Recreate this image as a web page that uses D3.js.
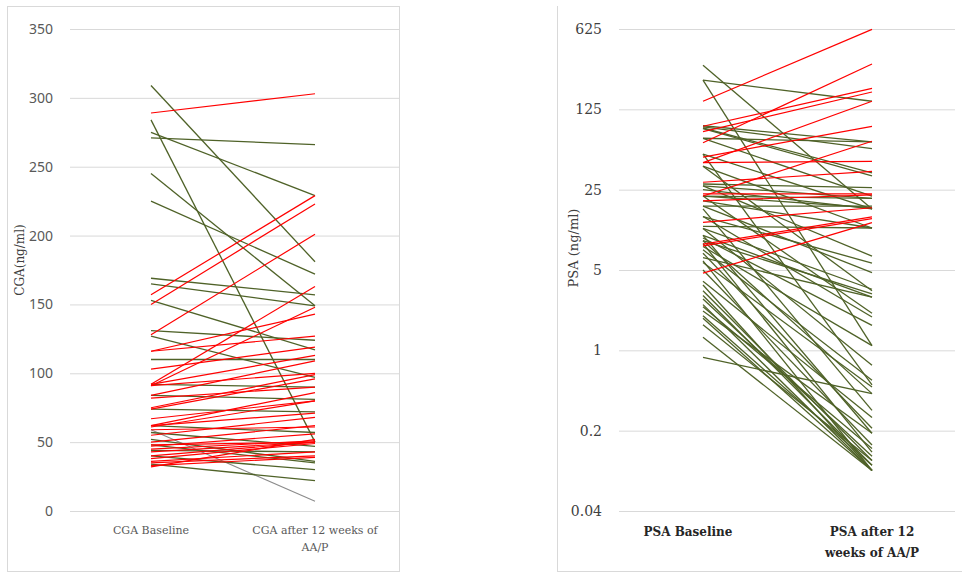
<!DOCTYPE html>
<html lang="en">
<head>
<meta charset="utf-8">
<title>CGA and PSA before / after AA/P</title>
<style type="text/css">
body
{
   margin: 0;
   background: #ffffff;
}
.grid line
{
   stroke: #d9d9d9;
   stroke-width: 1;
}
.grid .domain
{
   display: none;
}
.frame
{
   fill: none;
   stroke: #d9d9d9;
   stroke-width: 1;
}
</style>
<script type="text/javascript" src="https://cdn.jsdelivr.net/npm/d3@7"></script>
</head>

<body>

<script type="text/javascript">
var w = 962;
var h = 574;

// ---- data ----
var cgaCategories = ["CGA Baseline", "CGA after 12 weeks of|AA/P"];
var cgaTicks = [0, 50, 100, 150, 200, 250, 300, 350];
// [baseline, after 12 weeks]
var cgaUp = [
  [289, 303], [157, 229], [150, 223], [128, 201], [92, 163], [91, 148],
  [116, 143], [116, 127], [103, 119], [92, 113], [91, 100], [75, 99],
  [74, 96], [84, 109], [82, 90], [62, 86], [61, 80], [67, 80], [62, 71],
  [55, 68], [50, 62], [47, 56], [45, 51], [43, 50], [40, 50], [38, 49],
  [48, 50], [36, 43], [35, 40], [33, 39], [32, 52], [59, 61]
];
var cgaDown = [
  [309, 181], [284, 50], [275, 229], [271, 266], [245, 149], [225, 172],
  [169, 157], [165, 149], [153, 117], [131, 124], [127, 97], [110, 110],
  [92, 90], [84, 81], [74, 72], [62, 57], [52, 36], [48, 35], [44, 43],
  [40, 30], [34, 22], [57, 47]
];
var cgaOther = [
  [59, 7]
];

var psaCategories = ["PSA Baseline", "PSA after 12|weeks of AA/P"];
var psaTicks = [0.04, 0.2, 1, 5, 25, 125, 625];
var psaUp = [
  [147, 620], [64, 310], [89, 190], [80, 177], [43, 147], [48, 89],
  [22, 66], [43, 44], [29, 36], [20, 22.5], [23, 23], [13, 17.4],
  [8.4, 14.5], [8.1, 14], [4.7, 12.9]
];
var psaDown = [
  [303, 17], [224, 147], [224, 1.1], [90, 65], [88, 57], [86, 35],
  [85, 33], [70, 65], [70, 22], [51, 17], [51, 0.5], [40, 11.6],
  [40, 3.3], [28, 26], [27, 21], [27, 6.6], [25, 17], [22, 21],
  [22, 17.4], [22, 2.1], [20, 11.6], [18, 18], [18, 4.75], [17, 0.3],
  [14.6, 5.75], [14.6, 1.95], [12, 11.6], [11.5, 3.4], [11.5, 0.74],
  [10, 2.9], [10, 0.19], [9.5, 1.65], [9, 3.1], [9, 0.42], [8.5, 0.13],
  [8, 1.1], [7.5, 0.55], [7, 0.21], [6.4, 2.9], [6, 0.09], [5.8, 0.48],
  [5, 0.15], [4, 0.26], [3.7, 0.09], [3.3, 0.11], [3, 0.1], [2.8, 0.12],
  [2.5, 0.09], [2.4, 0.14], [2.2, 0.19], [2, 0.1], [1.9, 0.09],
  [1.67, 0.11], [1.3, 0.09], [0.87, 0.42]
];

var green = "#4f6228";
var red = "#ff0000";
var grey = "#8c8c8c";

var svg = d3.select("body")
            .append("svg")
            .attr("width", w)
            .attr("height", h);

// ---- left chart: CGA ----
svg.append("rect").attr("class", "frame")
   .attr("x", 7.5).attr("y", 6.5).attr("width", 392).attr("height", 565);

var xL = d3.scalePoint().domain(cgaCategories).range([151, 315]);
var yL = d3.scaleLinear().domain([0, 350]).range([511, 29]);

var gL = svg.append("g")
            .attr("class", "grid")
            .attr("transform", "translate(70,0)")
            .call(d3.axisLeft(yL).tickValues(cgaTicks).tickSize(-329).tickPadding(17));
gL.selectAll("text")
  .style("font-family", "'Noto Sans', sans-serif")
  .style("font-size", "14px")
  .style("fill", "#595959");

function drawLines(g, data, x, y, cats, color, width) {
  g.selectAll(null)
   .data(data)
   .enter()
   .append("line")
   .attr("x1", x(cats[0]))
   .attr("x2", x(cats[1]))
   .attr("y1", function(d){ return y(d[0]); })
   .attr("y2", function(d){ return y(d[1]); })
   .attr("stroke", color)
   .attr("stroke-width", width);
}

var linesL = svg.append("g");
drawLines(linesL, cgaOther, xL, yL, cgaCategories, grey, 1.1);
drawLines(linesL, cgaDown, xL, yL, cgaCategories, green, 1.3);
drawLines(linesL, cgaUp, xL, yL, cgaCategories, red, 1.2);

cgaCategories.forEach(function(c){
  var t = svg.append("text")
     .attr("x", xL(c))
     .attr("y", 534)
     .attr("text-anchor", "middle")
     .style("font-family", "'DejaVu Serif', serif")
     .style("font-size", "11px")
     .style("fill", "#595959");
  c.split("|").forEach(function(part, i){
    t.append("tspan").attr("x", xL(c)).attr("dy", i == 0 ? 0 : 17).text(part);
  });
});

svg.append("text")
   .attr("transform", "translate(24,260) rotate(-90)")
   .attr("text-anchor", "middle")
   .style("font-family", "'DejaVu Serif', serif")
   .style("font-size", "12px")
   .style("fill", "#404040")
   .text("CGA(ng/ml)");

// ---- right chart: PSA ----
svg.append("line").attr("class", "frame")
   .attr("x1", 557.5).attr("x2", 557.5).attr("y1", 6).attr("y2", 571.5);
svg.append("line").attr("class", "frame")
   .attr("x1", 557).attr("x2", 962).attr("y1", 571.5).attr("y2", 571.5);

var xR = d3.scalePoint().domain(psaCategories).range([703, 872]);
var yR = d3.scaleLog().base(5).domain([0.04, 625]).range([511, 29]);

var gR = svg.append("g")
            .attr("class", "grid")
            .attr("transform", "translate(619,0)")
            .call(d3.axisLeft(yR).tickValues(psaTicks).tickFormat(function(d){ return String(d); })
                    .tickSize(-336).tickPadding(17));
gR.selectAll("text")
  .style("font-family", "'DejaVu Serif', serif")
  .style("font-size", "14px")
  .style("fill", "#404040");

var linesR = svg.append("g");
drawLines(linesR, psaDown, xR, yR, psaCategories, green, 1.3);
drawLines(linesR, psaUp, xR, yR, psaCategories, red, 1.2);

psaCategories.forEach(function(c){
  var t = svg.append("text")
     .attr("x", xR(c))
     .attr("y", 536)
     .attr("text-anchor", "middle")
     .style("font-family", "'DejaVu Serif', serif")
     .style("font-size", "12px")
     .style("font-weight", "bold")
     .style("fill", "#262626");
  c.split("|").forEach(function(part, i){
    t.append("tspan").attr("x", xR(c)).attr("dy", i == 0 ? 0 : 21).text(part);
  });
});
// the baseline label sits a little left of its lines in the original
svg.selectAll("text").filter(function(){ return this.textContent == "PSA Baseline"; })
   .attr("transform", "translate(-15,0)");

svg.append("text")
   .attr("transform", "translate(578,248) rotate(-90)")
   .attr("text-anchor", "middle")
   .style("font-family", "'DejaVu Serif', serif")
   .style("font-size", "13px")
   .style("fill", "#404040")
   .text("PSA (ng/ml)");
</script>
</body>
</html>
